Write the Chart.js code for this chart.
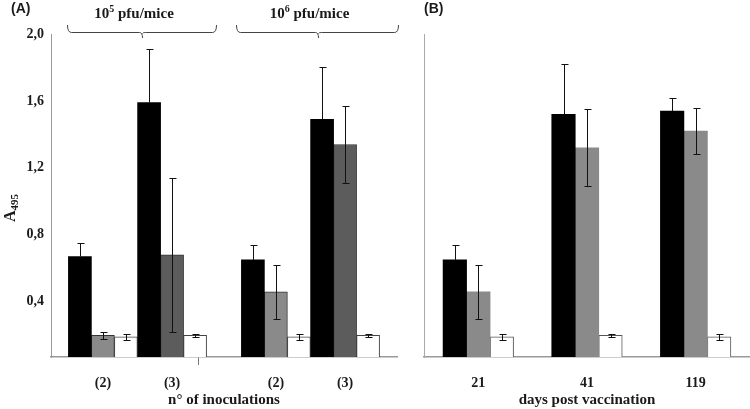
<!DOCTYPE html>
<html>
<head>
<meta charset="utf-8">
<script src="https://cdn.jsdelivr.net/npm/chart.js@4/dist/chart.umd.min.js"></script>
<style>
  html, body { margin: 0; padding: 0; background: #fff; }
  #wrap { position: relative; width: 750px; height: 409px; }
  #chartA { position: absolute; left: 0; top: 0; }
  #chartB { position: absolute; left: 410px; top: 0; }
</style>
</head>
<body>
<div id="wrap">
  <canvas id="chartA" width="410" height="409"></canvas>
  <canvas id="chartB" width="340" height="409"></canvas>
</div>
<script>
// panel A - number of inoculations, two doses
const categoriesA = ["(2)", "(3)", "(2)", "(3)"];
const doseExponents = ["5", "6"];
const seriesA1 = [0.67, 1.59, 0.65, 1.49];
const errA1 = [0.08, 0.32, 0.09, 0.31];
const seriesA2 = [0.20, 0.68, 0.46, 1.34];
const errA2 = [0.02, 0.46, 0.16, 0.23];
const seriesA3 = [0.19, 0.20, 0.19, 0.20];
const errA3 = [0.02, 0.01, 0.02, 0.01];

// panel B - days post vaccination
const categoriesB = ["21", "41", "119"];
const seriesB1 = [0.65, 1.52, 1.54];
const errB1 = [0.09, 0.30, 0.08];
const seriesB2 = [0.46, 1.32, 1.42];
const errB2 = [0.16, 0.23, 0.14];
const seriesB3 = [0.19, 0.20, 0.19];
const errB3 = [0.02, 0.01, 0.02];

const yTicks = [0.4, 0.8, 1.2, 1.6, 2.0];
const yMin = 0.07, yMax = 2.0;

const SERIF = "'Liberation Serif', 'Times New Roman', serif";
const SANS = "'Liberation Sans', Arial, sans-serif";
const TEXT = "#1a1a1a";

// x positions for panel A: the two dose groups are set apart by half a slot
const posA = categoriesA.map((c, i) => i + 1 + (i >= 2 ? 0.5 : 0));
const midA = (posA[1] + posA[2]) / 2;

const errorBars = {
    id: "errorBars",
    afterDatasetsDraw(chart) {
        const ctx = chart.ctx;
        const y = chart.scales.y;
        ctx.save();
        ctx.strokeStyle = "#111";
        ctx.lineWidth = 1;
        chart.data.datasets.forEach((ds, i) => {
            chart.getDatasetMeta(i).data.forEach((bar, j) => {
                const v = ds.data[j], e = ds.errors[j];
                const top = Math.round(y.getPixelForValue(v + e)) + 0.5;
                const bottom = ds.upOnly ? bar.y : Math.round(y.getPixelForValue(v - e)) + 0.5;
                const x = Math.round(bar.x) + 0.5;
                ctx.beginPath();
                ctx.moveTo(x, top); ctx.lineTo(x, bottom);
                ctx.moveTo(x - 3, top); ctx.lineTo(x + 4, top);
                if (!ds.upOnly) { ctx.moveTo(x - 3, bottom); ctx.lineTo(x + 4, bottom); }
                ctx.stroke();
            });
        });
        ctx.restore();
    }
};

function drawDoseLabel(ctx, cx, cy, exp) {
    const big = "bold 15px " + SERIF, small = "bold 10px " + SERIF;
    ctx.font = big;
    const w1 = ctx.measureText("10").width;
    const w3 = ctx.measureText(" pfu/mice").width;
    ctx.font = small;
    const w2 = ctx.measureText(exp).width;
    let x = cx - (w1 + w2 + w3) / 2;
    ctx.textAlign = "left";
    ctx.textBaseline = "alphabetic";
    ctx.font = big;
    ctx.fillText("10", x, cy + 5);
    x += w1;
    ctx.font = small;
    ctx.fillText(exp, x, cy - 1);
    x += w2;
    ctx.font = big;
    ctx.fillText(" pfu/mice", x, cy + 5);
}

function drawBracket(ctx, x1, x2, yTop, yLine, yTip) {
    const xm = Math.round((x1 + x2) / 2) + 0.5;
    ctx.beginPath();
    ctx.moveTo(x1, yTop);
    ctx.quadraticCurveTo(x1, yLine, x1 + 4, yLine);
    ctx.lineTo(xm - 3, yLine);
    ctx.quadraticCurveTo(xm, yLine, xm, yTip);
    ctx.moveTo(xm, yLine + 1);
    ctx.quadraticCurveTo(xm, yLine, xm + 3, yLine);
    ctx.lineTo(x2 - 4, yLine);
    ctx.quadraticCurveTo(x2, yLine, x2, yTop);
    ctx.stroke();
}

const panelAExtras = {
    id: "panelAExtras",
    afterDraw(chart) {
        const ctx = chart.ctx;
        const xs = chart.scales.x;
        ctx.save();
        ctx.fillStyle = TEXT;
        ctx.font = "bold 14px " + SANS;
        ctx.textAlign = "left";
        ctx.textBaseline = "middle";
        ctx.fillText("(A)", 11, 9);
        // dose brackets over each pair of groups
        const spans = [[posA[0] - 0.52, posA[1] + 0.63], [posA[2] - 0.58, posA[3] + 0.76]];
        ctx.strokeStyle = "#444";
        ctx.lineWidth = 1;
        spans.forEach((s, k) => {
            const x1 = Math.round(xs.getPixelForValue(s[0])) + 0.5;
            const x2 = Math.round(xs.getPixelForValue(s[1])) + 0.5;
            drawBracket(ctx, x1, x2, 25, 32.5, 38);
            drawDoseLabel(ctx, (x1 + x2) / 2 - 8, 13, doseExponents[k]);
        });
        // y axis title A495
        ctx.translate(15, 208);
        ctx.rotate(-Math.PI / 2);
        ctx.textBaseline = "alphabetic";
        ctx.textAlign = "left";
        ctx.font = "bold 16px " + SERIF;
        const wA = ctx.measureText("A").width;
        ctx.font = "bold 11px " + SERIF;
        const wS = ctx.measureText("495").width;
        const x0 = -(wA + wS) / 2;
        ctx.font = "bold 16px " + SERIF;
        ctx.fillText("A", x0, 0);
        ctx.font = "bold 11px " + SERIF;
        ctx.fillText("495", x0 + wA, 3);
        ctx.restore();
    }
};

const panelBExtras = {
    id: "panelBExtras",
    afterDraw(chart) {
        const ctx = chart.ctx;
        ctx.save();
        ctx.fillStyle = TEXT;
        ctx.font = "bold 14px " + SANS;
        ctx.textAlign = "left";
        ctx.textBaseline = "middle";
        ctx.fillText("(B)", 14, 9);
        ctx.restore();
    }
};

function fmt(v) {
    return v.toFixed(1).replace(".", ",");
}

new Chart(document.getElementById("chartA"), {
    type: "bar",
    data: {
        labels: posA,
        datasets: [
            { data: seriesA1, errors: errA1, upOnly: true, backgroundColor: "#000", borderWidth: 0 },
            { data: seriesA2, errors: errA2, backgroundColor: ["#8a8a8a", "#5c5c5c", "#8a8a8a", "#5c5c5c"],
              borderColor: "#333", borderWidth: 1 },
            { data: seriesA3, errors: errA3, backgroundColor: "#fff", borderColor: "#444", borderWidth: 1 }
        ]
    },
    options: {
        responsive: false,
        animation: false,
        devicePixelRatio: 1,
        barThickness: 23,
        layout: { padding: { top: 34, right: 13, left: 0, bottom: 0 } },
        plugins: { legend: { display: false }, tooltip: { enabled: false } },
        scales: {
            x: {
                type: "linear",
                min: 0.25,
                max: 5.25,
                offset: false,
                afterBuildTicks: (s) => {
                    s.ticks = [...posA, midA].sort((a, b) => a - b).map(v => ({ value: v }));
                },
                afterFit: (s) => { s.height = 52; },
                grid: {
                    drawOnChartArea: false,
                    drawTicks: true,
                    tickLength: 8,
                    color: (c) => (c.tick && c.tick.value === midA ? "#777" : "rgba(0,0,0,0)")
                },
                border: { display: true, color: "#999", width: 1.5 },
                ticks: {
                    autoSkip: false,
                    maxRotation: 0,
                    padding: 10,
                    color: TEXT,
                    font: { family: SERIF, size: 14, weight: "bold" },
                    callback: (v) => {
                        const i = posA.indexOf(v);
                        return i >= 0 ? categoriesA[i] : "";
                    }
                },
                title: {
                    display: true,
                    text: "n° of inoculations",
                    color: TEXT,
                    font: { family: SERIF, size: 15, weight: "bold" },
                    padding: { top: 0, bottom: 0 }
                }
            },
            y: {
                min: yMin,
                max: yMax,
                afterBuildTicks: (s) => { s.ticks = yTicks.map(v => ({ value: v })); },
                afterFit: (s) => { s.width = 51; },
                grid: { drawOnChartArea: false, drawTicks: false },
                border: { display: true, color: "#999", width: 1 },
                ticks: {
                    padding: 7,
                    color: TEXT,
                    font: { family: SERIF, size: 14, weight: "bold" },
                    callback: (v) => fmt(v)
                }
            }
        }
    },
    plugins: [errorBars, panelAExtras]
});

new Chart(document.getElementById("chartB"), {
    type: "bar",
    data: {
        labels: categoriesB,
        datasets: [
            { data: seriesB1, errors: errB1, upOnly: true, backgroundColor: "#000", borderWidth: 0 },
            { data: seriesB2, errors: errB2, backgroundColor: "#8a8a8a", borderWidth: 0 },
            { data: seriesB3, errors: errB3, backgroundColor: "#fff", borderColor: "#555", borderWidth: 1 }
        ]
    },
    options: {
        responsive: false,
        animation: false,
        devicePixelRatio: 1,
        barThickness: 23.5,
        layout: { padding: { top: 34, right: 0, left: 0, bottom: 0 } },
        plugins: { legend: { display: false }, tooltip: { enabled: false } },
        scales: {
            x: {
                afterFit: (s) => { s.height = 52; },
                grid: { drawOnChartArea: false, drawTicks: false },
                border: { display: true, color: "#999", width: 1.5 },
                ticks: {
                    maxRotation: 0,
                    padding: 18,
                    color: TEXT,
                    font: { family: SERIF, size: 14, weight: "bold" }
                },
                title: {
                    display: true,
                    text: "days post vaccination",
                    color: TEXT,
                    font: { family: SERIF, size: 15, weight: "bold" },
                    padding: { top: 0, bottom: 0 }
                }
            },
            y: {
                min: yMin,
                max: yMax,
                afterBuildTicks: (s) => { s.ticks = yTicks.map(v => ({ value: v })); },
                afterFit: (s) => { s.width = 14; },
                grid: { drawOnChartArea: false, drawTicks: false },
                border: { display: true, color: "#aaa", width: 1 },
                ticks: { display: false }
            }
        }
    },
    plugins: [errorBars, panelBExtras]
});
</script>
</body>
</html>
